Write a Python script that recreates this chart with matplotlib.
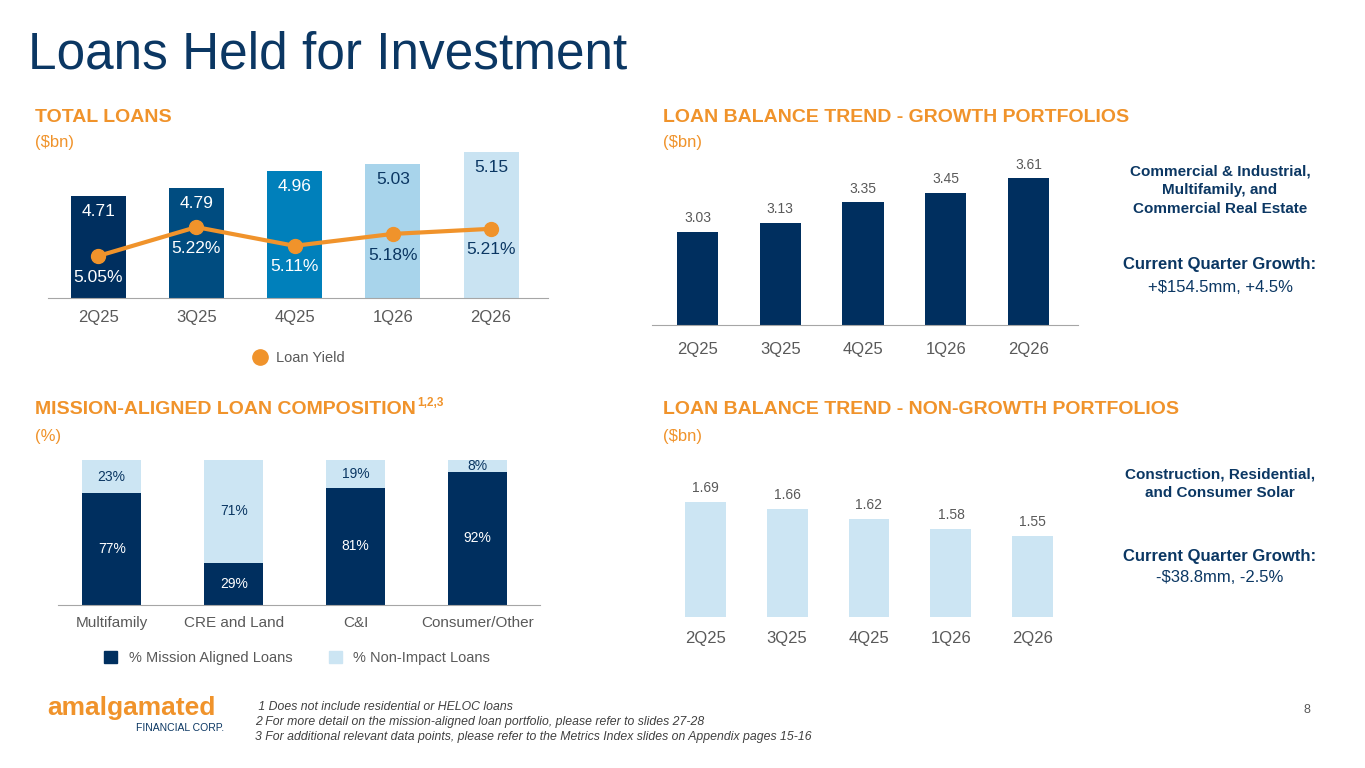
import numpy as np
import matplotlib
matplotlib.use("Agg")
from matplotlib import pyplot as plt
from matplotlib.patches import Patch
from matplotlib.lines import Line2D

plt.rcParams['font.family'] = ['Liberation Sans', 'DejaVu Sans']

W, H = 1365, 768
NAVY = '#0B3763'
ORANGE = '#F0932B'
GRAY = '#595959'

quarters = ['2Q25', '3Q25', '4Q25', '1Q26', '2Q26']
total_loans = [4.71, 4.79, 4.96, 5.03, 5.15]
loan_yield = [5.05, 5.22, 5.11, 5.18, 5.21]
growth = [3.03, 3.13, 3.35, 3.45, 3.61]
non_growth = [1.69, 1.66, 1.62, 1.58, 1.55]
mission_cats = ['Multifamily', 'CRE and Land', 'C&I', 'Consumer/Other']
mission_aligned = [77, 29, 81, 92]
non_impact = [23, 71, 19, 8]

fig = plt.figure(figsize=(W / 100, H / 100), dpi=100)


def box(x0, y0, x1, y1):
    # pixel box (top-left origin) -> figure fraction rect
    return [x0 / W, 1 - y1 / H, (x1 - x0) / W, (y1 - y0) / H]


def ftext(x, y, s, **kw):
    fig.text(x / W, 1 - y / H, s, **kw)


def clean(ax, line=True):
    for s in ['top', 'right', 'left']:
        ax.spines[s].set_visible(False)
    ax.spines['bottom'].set_visible(line)
    ax.spines['bottom'].set_color('#A6A6A6')
    ax.set_yticks([])
    ax.tick_params(axis='x', length=0, labelsize=12, labelcolor=GRAY, pad=9)
    ax.patch.set_alpha(0)


ftext(28, 55, 'Loans Held for Investment', fontsize=37, color=NAVY, va='center')

# titles
for x, y, s in [(35, 117, 'TOTAL LOANS'), (663, 117, 'LOAN BALANCE TREND - GROWTH PORTFOLIOS'),
                (663, 409, 'LOAN BALANCE TREND - NON-GROWTH PORTFOLIOS'),
                (35, 409, 'MISSION-ALIGNED LOAN COMPOSITION')]:
    ftext(x, y, s, fontsize=14, color=ORANGE, weight='bold', va='center')
ftext(417, 403, '1,2,3', fontsize=8.5, color=ORANGE, weight='bold', va='center')
for x, y, s in [(35, 143, '($bn)'), (663, 143, '($bn)'), (35, 436, '(%)'), (663, 436, '($bn)')]:
    ftext(x, y, s, fontsize=12, color=ORANGE, va='center')

# total loans
ax = fig.add_axes(box(48, 140, 548, 298))
x = np.arange(5)
cols = ['#002F5F', '#004C80', '#0080BB', '#A8D4EB', '#C9E3F2']
ax.bar(x, total_loans, width=0.56, color=cols, bottom=0)
ax.set_ylim(3.69, 3.69 + 158 / 100)
ax.set_xlim(-0.51, 4.58)
clean(ax)
ax.set_xticks(x, quarters)
for i, v in enumerate(total_loans):
    ax.text(i, v - 0.08, f'{v:.2f}', ha='center', va='top', fontsize=12.5,
            color='white' if i < 3 else NAVY)
ax2 = ax.twinx()
ax2.set_ylim(4.803, 4.803 + 158 / 170)
ax2.plot(x, loan_yield, color=ORANGE, lw=3, marker='o', ms=10)
for s in ax2.spines.values():
    s.set_visible(False)
ax2.set_yticks([])
for i, v in enumerate(loan_yield):
    ax2.text(i, v - 0.08, f'{v:.2f}%', ha='center', va='top', fontsize=12.5,
             color='white' if i < 3 else NAVY)
fig.legend(handles=[Line2D([], [], color=ORANGE, marker='o', ls='', ms=11)], labels=['Loan Yield'],
           loc='center', bbox_to_anchor=(295 / W, 1 - 358 / H), frameon=False, fontsize=10.5,
           labelcolor=GRAY, handletextpad=0.1)

# growth
ax = fig.add_axes(box(652, 150, 1078, 325))
ax.bar(x, growth, width=0.5, color='#002F5F')
ax.set_ylim(2.03, 2.03 + 175 / 93)
ax.set_xlim(-0.55, 4.6)
clean(ax)
ax.set_xticks(x, quarters)
ax.tick_params(axis='x', pad=12)
for i, v in enumerate(growth):
    ax.text(i, v + 0.07, f'{v:.2f}', ha='center', va='bottom', fontsize=10, color=GRAY)

# non-growth
ax = fig.add_axes(box(660, 470, 1078, 617))
ax.bar(x, non_growth, width=0.5, color='#CCE5F3')
ax.set_ylim(1.217, 1.217 + 147 / 243)
ax.set_xlim(-0.55, 4.55)
clean(ax, line=False)
ax.set_xticks(x, quarters)
ax.tick_params(axis='x', pad=10)
for i, v in enumerate(non_growth):
    ax.text(i, v + 0.03, f'{v:.2f}', ha='center', va='bottom', fontsize=10, color=GRAY)

# mission
ax = fig.add_axes(box(58, 460, 540, 605))
xm = np.arange(4)
ax.bar(xm, mission_aligned, width=0.48, color='#002F5F')
ax.bar(xm, non_impact, bottom=mission_aligned, width=0.48, color='#CCE5F3')
ax.set_ylim(0, 100)
ax.set_xlim(-0.44, 3.51)
clean(ax)
ax.set_xticks(xm, mission_cats)
ax.tick_params(axis='x', labelsize=11, pad=8)
for i in range(4):
    ax.text(i, mission_aligned[i] / 2, f'{mission_aligned[i]}%', ha='center', va='center',
            fontsize=10, color='white')
    ax.text(i, mission_aligned[i] + non_impact[i] / 2, f'{non_impact[i]}%', ha='center',
            va='center', fontsize=10, color=NAVY)
fig.legend(handles=[Patch(color='#002F5F'), Patch(color='#CCE5F3')],
           labels=['% Mission Aligned Loans', '% Non-Impact Loans'], ncol=2, loc='center',
           bbox_to_anchor=(297 / W, 1 - 658 / H), frameon=False, fontsize=10.5, labelcolor=GRAY,
           handlelength=0.9, handleheight=0.9, columnspacing=2.5)

# side notes
for y, s, b in [(190, 'Commercial & Industrial,\nMultifamily, and\nCommercial Real Estate', True),
                (265, 'Current Quarter Growth:', True), (287, '+$154.5mm, +4.5%', False),
                (484, 'Construction, Residential,\nand Consumer Solar', True),
                (556, 'Current Quarter Growth:', True), (578, '-$38.8mm, -2.5%', False)]:
    ftext(1220, y, s, fontsize=11 if y in (190, 484) else 12, color=NAVY, ha='center', va='center',
          weight='bold' if b else 'normal', linespacing=1.45)

# footer
ftext(47, 708, 'amalgamated', fontsize=19, color=ORANGE, weight='bold', va='center')
ftext(224, 728, 'FINANCIAL CORP.', fontsize=7.5, color=NAVY, ha='right', va='center')
ftext(255, 722, ' 1 Does not include residential or HELOC loans\n'
      '2 For more detail on the mission-aligned loan portfolio, please refer to slides 27-28\n'
      '3 For additional relevant data points, please refer to the Metrics Index slides on Appendix pages 15-16',
      fontsize=8.8, color='#404040', style='italic', va='center', linespacing=1.35)
ftext(1310, 710, '8', fontsize=9, color=GRAY, ha='right', va='center')

fig.savefig('out.png', dpi=100)
